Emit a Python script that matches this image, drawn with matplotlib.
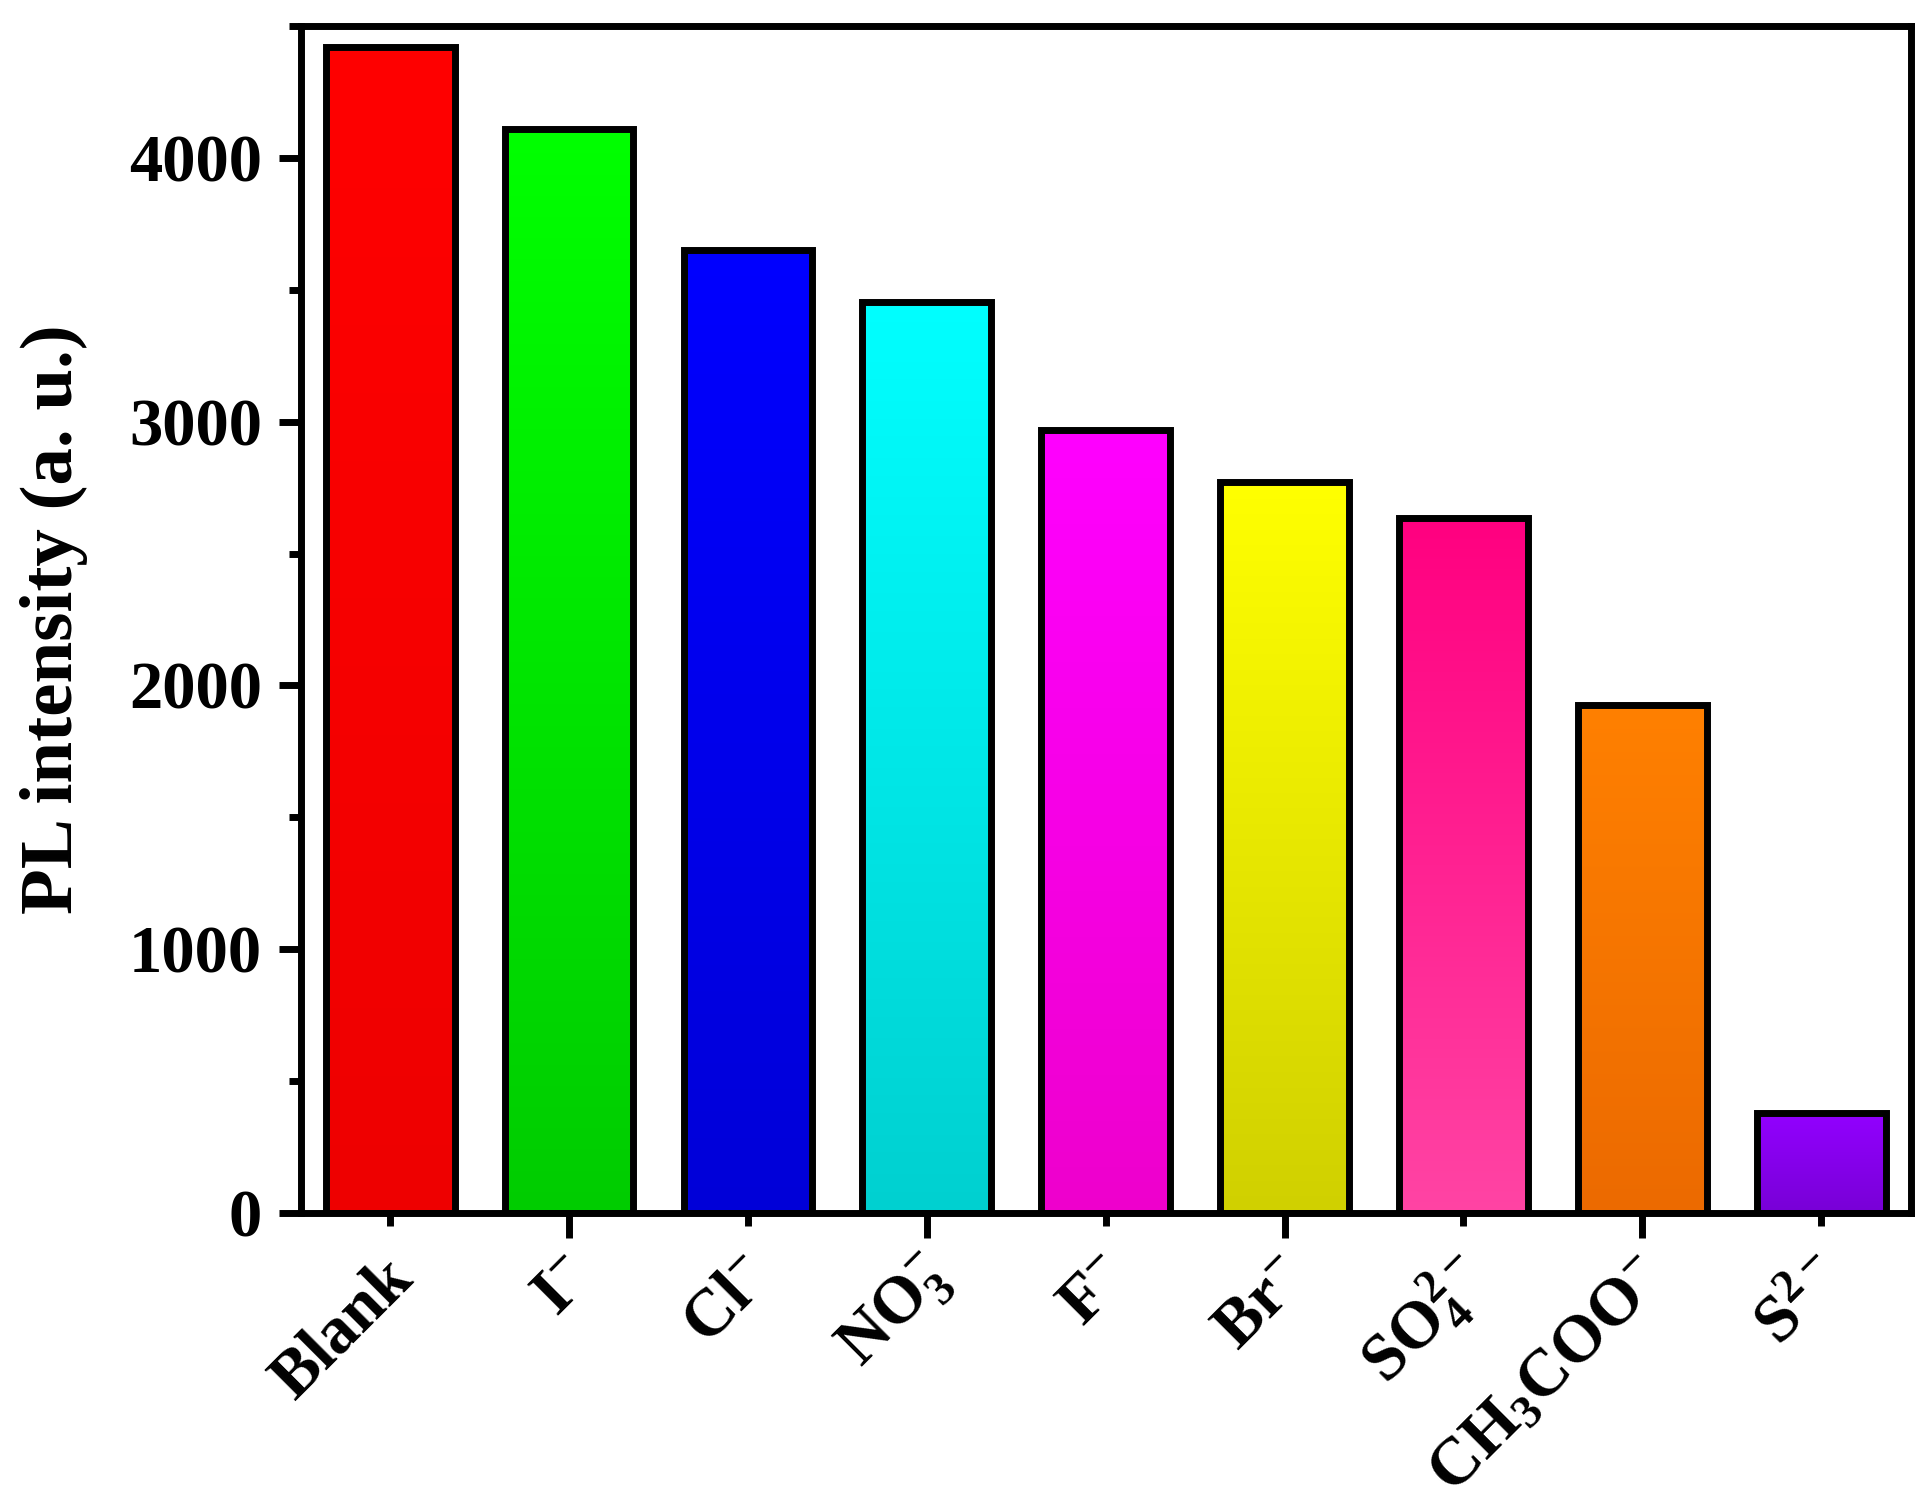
import matplotlib.pyplot as plt
import numpy as np
from matplotlib.colors import LinearSegmentedColormap
from matplotlib.ticker import MultipleLocator
from matplotlib.transforms import ScaledTranslation

plt.rcParams["font.family"] = "Liberation Serif"
plt.rcParams["font.weight"] = "bold"
plt.rcParams["mathtext.fontset"] = "custom"
plt.rcParams["mathtext.rm"] = "Liberation Serif:bold"
plt.rcParams["mathtext.it"] = "Liberation Serif:bold"
plt.rcParams["mathtext.bf"] = "Liberation Serif:bold"

# data
anions = [
    "Blank",
    r"$\mathrm{I^{-}}$",
    r"$\mathrm{Cl^{-}}$",
    r"$\mathrm{NO_3^{-}}$",
    r"$\mathrm{F^{-}}$",
    r"$\mathrm{Br^{-}}$",
    r"$\mathrm{SO_4^{2-}}$",
    r"$\mathrm{CH_3COO^{-}}$",
    r"$\mathrm{S^{2-}}$",
]
intensity = [4420, 4110, 3650, 3455, 2970, 2770, 2635, 1925, 378]
top_colors = ["#FF0000", "#00FF00", "#0000FF", "#00FFFF", "#FF00FF",
              "#FFFF00", "#FF0080", "#FF8000", "#9200FF"]
bottom_colors = ["#EE0000", "#00CC00", "#0000D8", "#00D0D0", "#EE00CC",
                 "#D0D000", "#FF44A4", "#EC6A00", "#7800D6"]

fig = plt.figure(figsize=(19.28, 15.11), dpi=100)
ax = fig.add_axes([0.156, 0.1972, 0.835, 0.7856])

x = np.arange(len(anions))
bars = ax.bar(x, intensity, width=0.72, facecolor="none",
              edgecolor="black", linewidth=5, zorder=3)

# vertical gradient fill inside each bar
grad = np.linspace(0, 1, 256).reshape(-1, 1)
for bar, c_top, c_bot in zip(bars, top_colors, bottom_colors):
    cmap = LinearSegmentedColormap.from_list("g", [c_bot, c_top])
    x0, w, h = bar.get_x(), bar.get_width(), bar.get_height()
    im = ax.imshow(grad, cmap=cmap, origin="lower", aspect="auto",
                   extent=[x0, x0 + w, 0, h], zorder=2)
    im.set_clip_path(bar)

ax.set_xlim(-0.5, 8.5)
ax.set_ylim(0, 4500)

ax.yaxis.set_major_locator(MultipleLocator(1000))
ax.yaxis.set_minor_locator(MultipleLocator(500))
ax.tick_params(axis="y", which="major", direction="out", length=16,
               width=5, labelsize=48, pad=12)
ax.tick_params(axis="y", which="minor", direction="out", length=9, width=5)

ax.set_xticks(x)
ax.set_xticklabels(anions, rotation=45, ha="right", va="center",
                   rotation_mode="anchor", fontsize=48)
ax.tick_params(axis="x", which="major", direction="out", width=5, pad=32)
# alternating tick lengths like the original
for i, tick in enumerate(ax.xaxis.get_major_ticks()):
    tick.tick1line.set_markersize(18 if i % 2 else 9)
# nudge rotated labels a little right/down
shift = ScaledTranslation(0.13, -0.06, fig.dpi_scale_trans)
for lbl in ax.get_xticklabels():
    lbl.set_transform(lbl.get_transform() + shift)

for spine in ax.spines.values():
    spine.set_linewidth(5)

ax.set_ylabel("PL intensity (a. u.)", fontsize=54, fontweight="bold")
ax.yaxis.set_label_coords(-0.132, 0.5)

fig.savefig("out.png", dpi=100)
